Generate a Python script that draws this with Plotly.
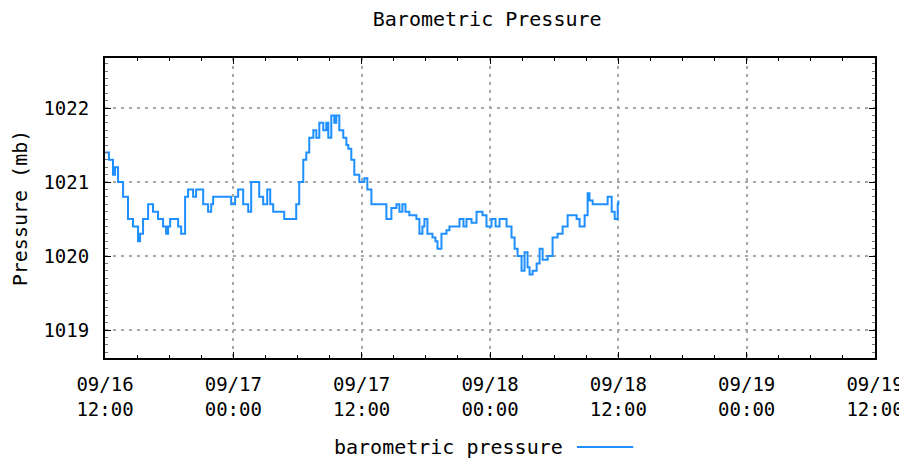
import plotly.graph_objects as go
from datetime import datetime, timedelta

start_time = datetime(2024, 9, 16, 12, 0)

# hours after 09/16 12:00
hours_offset = [
    0.0, 0.37, 0.75, 0.94, 1.22, 1.69, 2.15, 2.62, 3.09, 3.28, 3.56, 4.03, 4.49, 4.96,
    5.43, 5.71, 5.9, 6.09, 6.55, 6.84, 7.12, 7.49, 7.77, 8.24, 8.52, 8.71, 9.18, 9.64,
    9.93, 10.11, 11.05, 11.5, 11.8, 12.17, 12.45, 12.92, 13.39, 13.67, 14.14, 14.42,
    14.79, 15.17, 15.45, 15.73, 16.2, 16.76, 17.23, 17.6, 17.88, 18.16, 18.54, 18.82,
    19.1, 19.48, 19.76, 20.04, 20.41, 20.69, 20.88, 21.16, 21.44, 21.63, 21.91, 22.28,
    22.57, 22.75, 23.03, 23.31, 23.78, 24.25, 24.53, 24.91, 25.37, 25.84, 26.31, 26.78,
    27.25, 27.53, 27.81, 28.09, 28.46, 29.12, 29.4, 29.68, 29.87, 30.15, 30.62, 30.9,
    31.09, 31.46, 31.93, 32.21, 32.96, 33.15, 33.52, 33.8, 34.27, 34.74, 35.3, 35.67,
    36.14, 36.52, 36.89, 37.55, 38.01, 38.3, 38.58, 38.95, 39.23, 39.51, 39.7, 39.98,
    40.36, 40.64, 40.92, 41.39, 41.85, 42.32, 42.79, 43.26, 43.73, 44.1, 44.38, 44.85,
    45.13, 45.3, 45.6, 46.07, 46.54, 47.0, 47.38, 47.66, 47.94, 48.0,
]

pressure_mb = [
    1021.4, 1021.3, 1021.1, 1021.2, 1021.0, 1020.8, 1020.5, 1020.4, 1020.2, 1020.3, 1020.5, 1020.7, 1020.6, 1020.5,
    1020.4, 1020.3, 1020.4, 1020.5, 1020.5, 1020.4, 1020.3, 1020.8, 1020.9, 1020.8, 1020.9, 1020.9, 1020.7, 1020.6,
    1020.7, 1020.8, 1020.8, 1020.8, 1020.7, 1020.8, 1020.9, 1020.7, 1020.6, 1021.0, 1021.0, 1020.8,
    1020.7, 1020.9, 1020.7, 1020.6, 1020.6, 1020.5, 1020.5, 1020.5, 1020.7, 1021.0, 1021.3, 1021.4,
    1021.6, 1021.7, 1021.6, 1021.8, 1021.7, 1021.8, 1021.6, 1021.9, 1021.8, 1021.9, 1021.7, 1021.6,
    1021.5, 1021.45, 1021.3, 1021.1, 1021.0, 1021.05, 1020.9, 1020.7, 1020.7, 1020.7, 1020.5, 1020.65,
    1020.7, 1020.6, 1020.7, 1020.6, 1020.55, 1020.5, 1020.3, 1020.4, 1020.5, 1020.3, 1020.25, 1020.2,
    1020.1, 1020.3, 1020.35, 1020.4, 1020.4, 1020.5, 1020.4, 1020.5, 1020.45, 1020.6, 1020.55, 1020.4,
    1020.5, 1020.4, 1020.5, 1020.4, 1020.25, 1020.1, 1020.0, 1019.8, 1020.05, 1019.85, 1019.75, 1019.8,
    1019.9, 1020.1, 1019.95, 1020.0, 1020.25, 1020.3, 1020.4, 1020.55, 1020.55, 1020.5, 1020.4, 1020.55,
    1020.85, 1020.75, 1020.7, 1020.7, 1020.7, 1020.8, 1020.6, 1020.5, 1020.7, 1020.75,
]

series_name = "barometric pressure"
chart_title = "Barometric Pressure"
y_title = "Pressure (mb)"
y_range = [1018.622, 1022.676]
x_range = ["2024-09-16 12:00", "2024-09-19 12:00"]
y_ticks = [1019, 1020, 1021, 1022]

times = [start_time + timedelta(hours=h) for h in hours_offset]

FONT = "DejaVu Sans Mono"
LINE_COLOR = "#1e8fff"
GRID = "#a8a8a8"

fig = go.Figure()
fig.add_trace(go.Scatter(
    x=times, y=pressure_mb, mode="lines", name=series_name,
    line=dict(color=LINE_COLOR, width=2, shape="hv"),
    showlegend=False,
))

# page body has an 8px margin, so the figure is sized/offset to compensate
fig.update_layout(
    width=899, height=456,
    margin=dict(l=97, r=32, t=50, b=106, autoexpand=False),
    paper_bgcolor="white", plot_bgcolor="white",
    font=dict(family=FONT, size=19, color="black"),
    title=dict(text=chart_title, x=0.533, xanchor="center", y=0.975, yanchor="middle",
               font=dict(family=FONT, size=20, color="black")),
)

fig.update_xaxes(
    type="date", range=x_range, automargin=False,
    tick0="2024-09-16 12:00", dtick=12 * 3600 * 1000,
    tickformat="%m/%d<br>%H:%M",
    showgrid=True, gridcolor=GRID, griddash="3px,5px", gridwidth=1.5,
    showline=True, linecolor="black", linewidth=2, mirror="ticks",
    ticks="inside", ticklen=6, tickcolor="black", tickwidth=1,
    minor=dict(dtick=3 * 3600 * 1000, ticks="inside", ticklen=3, tickcolor="black", showgrid=False),
    zeroline=False,
    tickfont=dict(family=FONT, size=19),
    ticklabelstandoff=8,
)

fig.update_yaxes(
    range=y_range, tickvals=y_ticks, automargin=False,
    showgrid=True, gridcolor=GRID, griddash="3px,5px", gridwidth=1.5,
    showline=True, linecolor="black", linewidth=2, mirror="ticks",
    ticks="inside", ticklen=6, tickcolor="black", tickwidth=1,
    minor=dict(dtick=0.1, ticks="inside", ticklen=3, tickcolor="#777777", showgrid=False),
    zeroline=False,
    title=dict(text=y_title, font=dict(family=FONT, size=20), standoff=16),
    tickfont=dict(family=FONT, size=19),
    ticklabelstandoff=10,
)

# Legend: text followed by line sample (gnuplot style)
fig.add_annotation(text=series_name, xref="paper", yref="paper",
                   x=0.597, y=-0.297, xanchor="right", yanchor="middle",
                   showarrow=False, font=dict(family=FONT, size=20, color="black"))
fig.add_shape(type="line", xref="paper", yref="paper",
              x0=0.613, x1=0.686, y0=-0.2967, y1=-0.2967,
              line=dict(color=LINE_COLOR, width=2))

fig.write_html("out.html")
